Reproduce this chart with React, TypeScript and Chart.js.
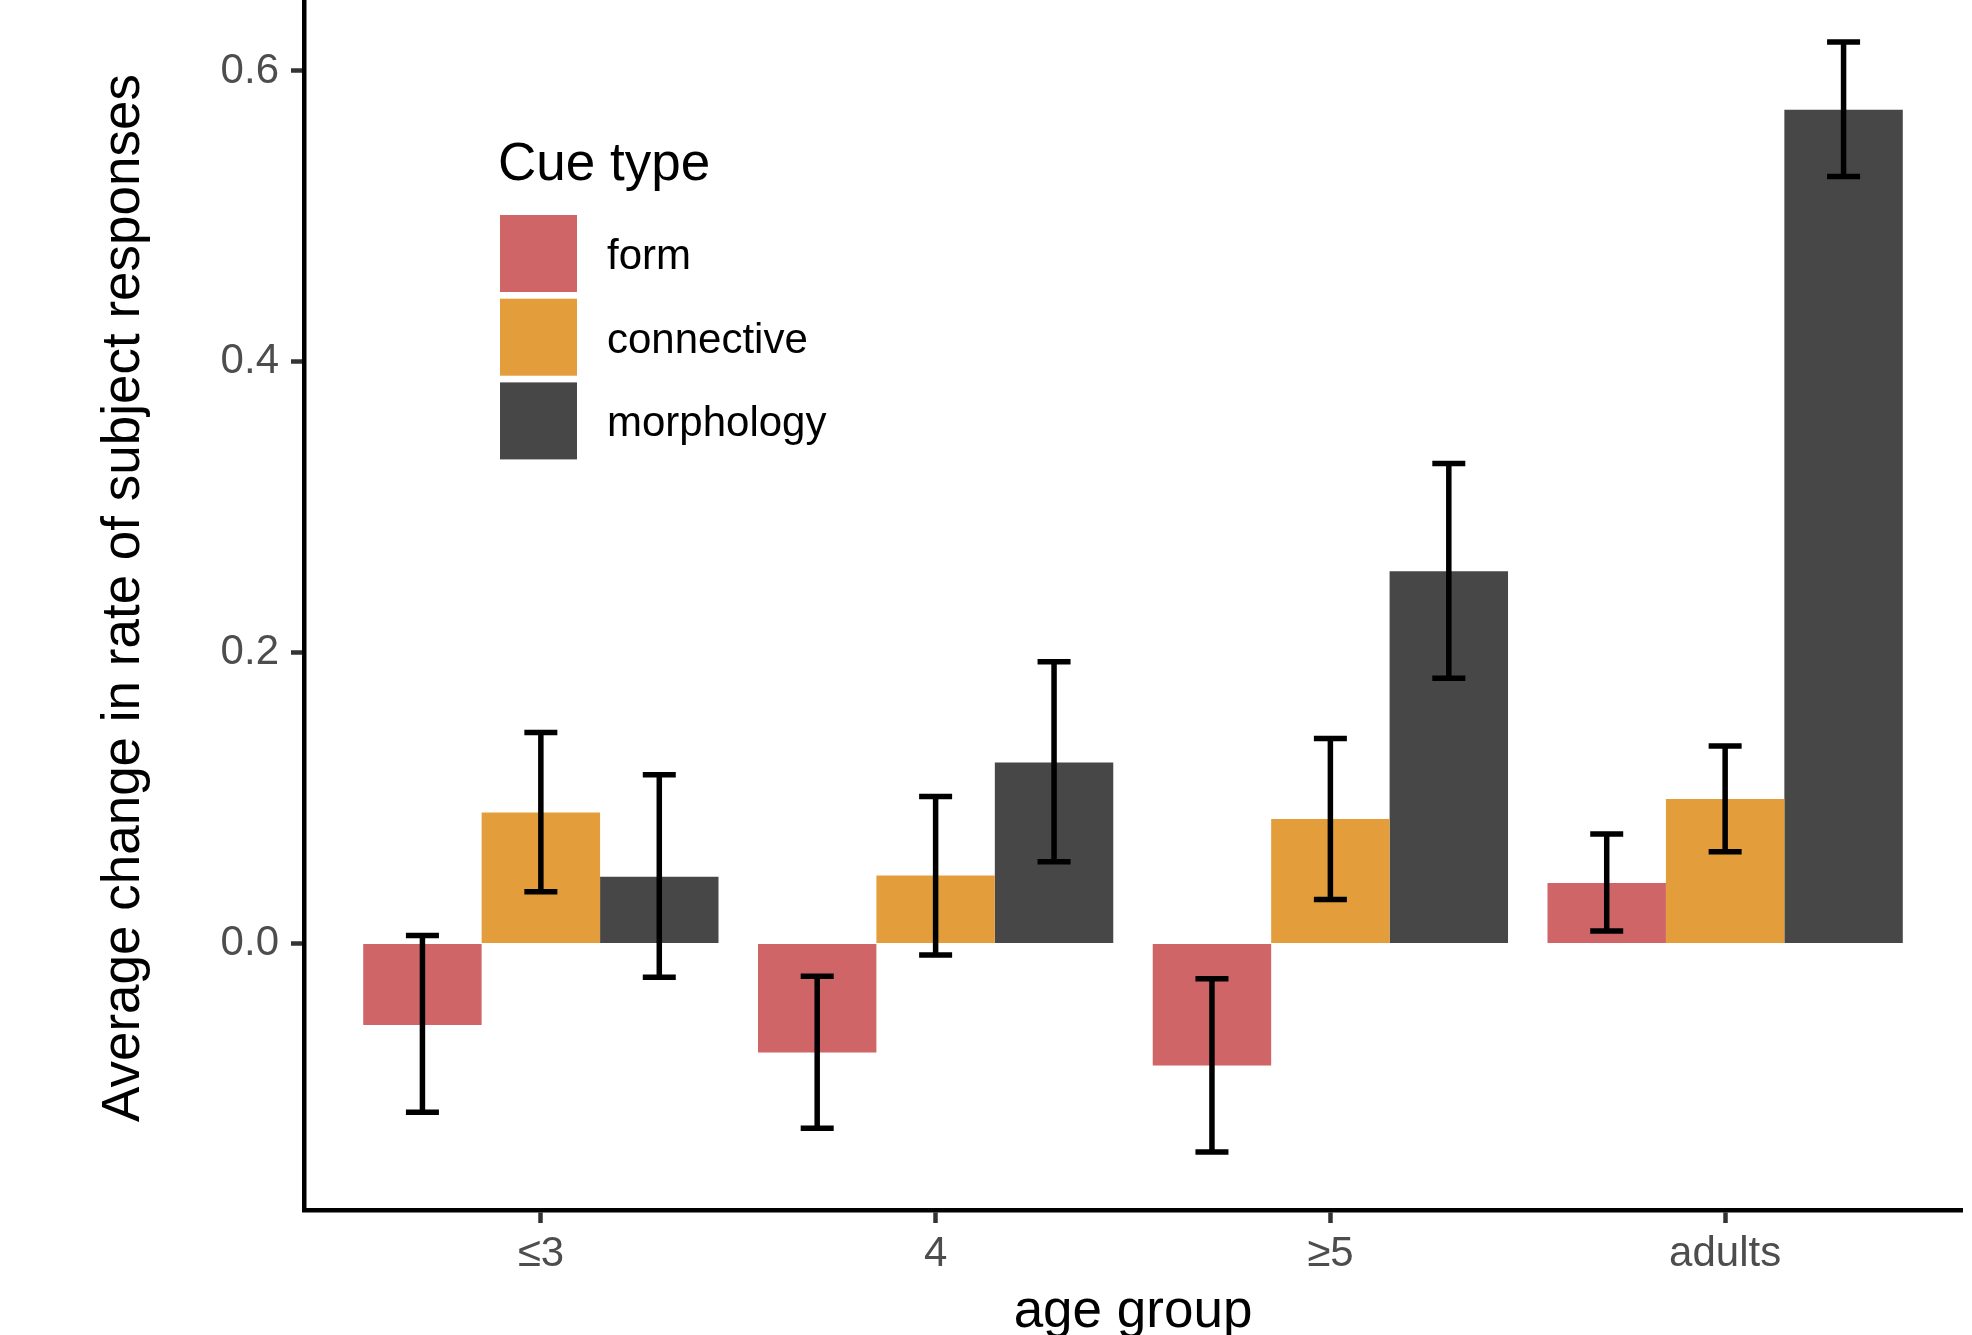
import { useEffect, useRef } from 'react';
import { Chart, registerables } from 'chart.js';

Chart.register(...registerables);

// ---- data ----
const categories = ['≤3', '4', '≥5', 'adults'];
const seriesNames = ['form', 'connective', 'morphology'];

const formMean = [-0.056, -0.075, -0.084, 0.0415];
const formLow = [-0.116, -0.127, -0.1435, 0.0086];
const formHigh = [0.0055, -0.0225, -0.0242, 0.0752];

const connectiveMean = [0.09, 0.0467, 0.0856, 0.0994];
const connectiveLow = [0.0355, -0.008, 0.0303, 0.0631];
const connectiveHigh = [0.145, 0.101, 0.141, 0.1358];

const morphologyMean = [0.0458, 0.1245, 0.256, 0.5733];
const morphologyLow = [-0.0233, 0.0562, 0.1824, 0.5275];
const morphologyHigh = [0.116, 0.1937, 0.33, 0.62];

const yTicks = [0, 0.2, 0.4, 0.6];
const seriesColors = ['#D06568', '#E39D3B', '#474747'];

const legendTitle = 'Cue type';
const xTitle = 'age group';
const yTitle = 'Average change in rate of subject responses';

const FONT = '"Liberation Sans", Arial, Helvetica, sans-serif';

const errorBarPlugin = {
  id: 'errorBars',
  afterDatasetsDraw(chart: any) {
    const ctx = chart.ctx;
    const yScale = chart.scales.y;
    chart.data.datasets.forEach((ds: any, di: number) => {
      const meta = chart.getDatasetMeta(di);
      meta.data.forEach((bar: any, i: number) => {
        const yl = yScale.getPixelForValue(ds.errLow[i]);
        const yh = yScale.getPixelForValue(ds.errHigh[i]);
        const x = bar.x;
        const half = 16.5;
        ctx.save();
        ctx.strokeStyle = '#000000';
        ctx.lineWidth = 5.5;
        ctx.lineCap = 'butt';
        ctx.beginPath();
        ctx.moveTo(x, yl);
        ctx.lineTo(x, yh);
        ctx.moveTo(x - half, yl);
        ctx.lineTo(x + half, yl);
        ctx.moveTo(x - half, yh);
        ctx.lineTo(x + half, yh);
        ctx.stroke();
        ctx.restore();
      });
    });
  },
};

const annotationPlugin = {
  id: 'annotations',
  afterDraw(chart: any) {
    const ctx = chart.ctx;
    const area = chart.chartArea;
    ctx.save();
    // legend
    ctx.fillStyle = '#000000';
    ctx.font = `53px ${FONT}`;
    ctx.textAlign = 'left';
    ctx.textBaseline = 'alphabetic';
    ctx.fillText(legendTitle, 498, 180);
    chart.data.datasets.forEach((ds: any, i: number) => {
      const top = 215 + i * 83.7;
      ctx.fillStyle = ds.backgroundColor;
      ctx.fillRect(500, top, 77, 77);
      ctx.fillStyle = '#000000';
      ctx.font = `42px ${FONT}`;
      ctx.fillText(ds.label, 607, top + 54);
    });
    // x title
    ctx.font = `53px ${FONT}`;
    ctx.textAlign = 'center';
    ctx.fillStyle = '#000000';
    ctx.fillText(xTitle, (area.left + area.right) / 2, 1327);
    // y title
    ctx.translate(139, 598);
    ctx.rotate(-Math.PI / 2);
    ctx.fillText(yTitle, 0, 0);
    ctx.restore();
  },
};

export default function App() {
  const canvasRef = useRef<HTMLCanvasElement | null>(null);

  useEffect(() => {
    const canvas = canvasRef.current;
    if (!canvas) return;
    const means = [formMean, connectiveMean, morphologyMean];
    const lows = [formLow, connectiveLow, morphologyLow];
    const highs = [formHigh, connectiveHigh, morphologyHigh];

    const chart = new Chart(canvas, {
      type: 'bar',
      data: {
        datasets: seriesNames.map((name, s) => ({
          label: name,
          data: categories.map((_, i) => ({ x: i, y: means[s][i] })),
          backgroundColor: seriesColors[s],
          borderWidth: 0,
          categoryPercentage: 0.9,
          barPercentage: 1.0,
          errLow: lows[s],
          errHigh: highs[s],
        })) as any,
      },
      options: {
        animation: false,
        responsive: false,
        devicePixelRatio: 1,
        layout: { padding: { left: 0, right: 10, top: 0, bottom: 0 } },
        plugins: {
          legend: { display: false },
          tooltip: { enabled: false },
          title: { display: false },
        },
        scales: {
          x: {
            type: 'linear',
            min: -0.6,
            max: 3.6,
            offset: false,
            afterBuildTicks: (s: any) => {
              s.ticks = categories.map((_, i) => ({ value: i }));
            },
            afterFit: (s: any) => {
              s.height = 125;
              s.paddingLeft = 0;
              s.paddingRight = 0;
            },
            ticks: {
              autoSkip: false,
              maxRotation: 0,
              padding: 6,
              color: '#4D4D4D',
              font: { family: FONT, size: 42 },
              callback: (v: any) => categories[Math.round(Number(v))] ?? '',
            },
            grid: {
              display: true,
              offset: false,
              drawOnChartArea: false,
              drawTicks: true,
              tickLength: 13,
              tickWidth: 4.5,
              tickColor: '#333333',
            },
            border: { display: true, color: '#000000', width: 4.5 },
          },
          y: {
            type: 'linear',
            min: -0.1833,
            max: 0.6488,
            afterBuildTicks: (s: any) => {
              s.ticks = yTicks.map((v) => ({ value: v }));
            },
            afterFit: (s: any) => {
              s.width = 304;
              s.paddingTop = 0;
              s.paddingBottom = 0;
            },
            ticks: {
              padding: 12,
              color: '#4D4D4D',
              font: { family: FONT, size: 42 },
              callback: (v: any) => Number(v).toFixed(1),
            },
            grid: {
              display: true,
              offset: false,
              drawOnChartArea: false,
              drawTicks: true,
              tickLength: 13,
              tickWidth: 4.5,
              tickColor: '#333333',
            },
            border: { display: true, color: '#000000', width: 4.5 },
          },
        },
      } as any,
      plugins: [errorBarPlugin, annotationPlugin],
    });
    return () => chart.destroy();
  }, []);

  return (
    <div style={{ position: 'absolute', left: 0, top: 0, width: 1972, height: 1335, background: '#ffffff' }}>
      <canvas ref={canvasRef} width={1972} height={1335} style={{ display: 'block' }} />
    </div>
  );
}
